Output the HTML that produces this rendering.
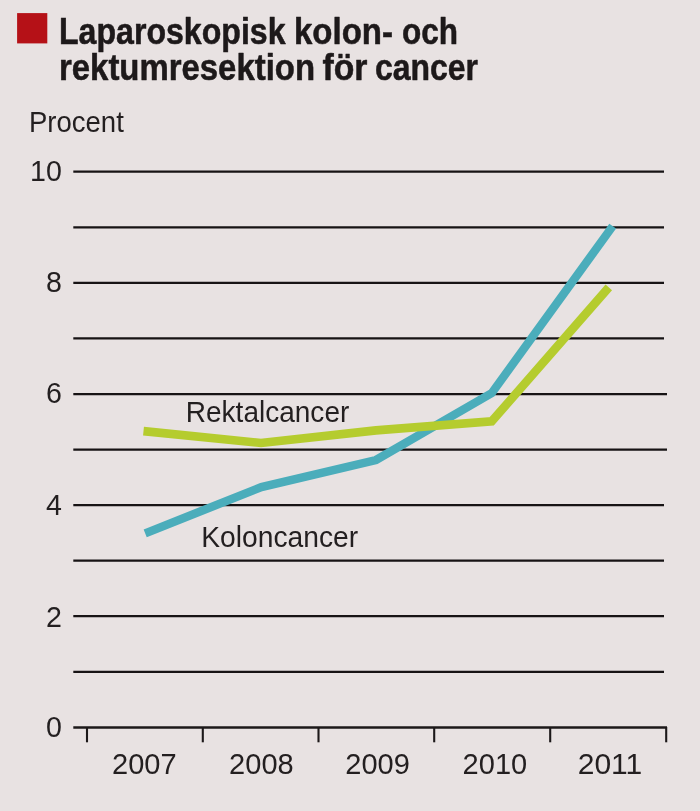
<!DOCTYPE html>
<html lang="sv">
<head>
<meta charset="utf-8">
<title>Laparoskopisk kolon- och rektumresektion för cancer</title>
<style>
  html, body { margin: 0; padding: 0; background: #e8e2e2; }
  body { width: 700px; height: 811px; overflow: hidden; font-family: "Liberation Sans", sans-serif; }
  svg { display: block; }
  .gray { will-change: transform; }
  text { font-family: "Liberation Sans", sans-serif; fill: #231f20; }
  .title { font-weight: bold; font-size: 37px; fill: #1d191a; stroke: #1d191a; stroke-width: 0.55px; stroke-linejoin: round; }
  .lbl { font-size: 29px; }
  .xl { font-size: 30px; }
  .yl { font-size: 28.6px; }
  .grid line { stroke: #171314; stroke-width: 2.25; }
</style>
</head>
<body>
<svg class="gray" width="700" height="811" viewBox="0 0 700 811">
  <rect x="0" y="0" width="700" height="811" fill="#e8e2e2"/>

  <!-- title -->
  <rect x="17.1" y="13.1" width="30.2" height="30.3" fill="#b51117"/>
  <text class="title" x="59" y="44.3" textLength="226.5" lengthAdjust="spacingAndGlyphs">Laparoskopisk</text>
  <text class="title" x="294" y="44.3" textLength="99" lengthAdjust="spacingAndGlyphs">kolon-</text>
  <text class="title" x="402" y="44.3" textLength="56" lengthAdjust="spacingAndGlyphs">och</text>
  <text class="title" x="59" y="79.8" textLength="256" lengthAdjust="spacingAndGlyphs">rektumresektion</text>
  <text class="title" x="322.5" y="79.8" textLength="45" lengthAdjust="spacingAndGlyphs">för</text>
  <text class="title" x="375" y="79.8" textLength="103" lengthAdjust="spacingAndGlyphs">cancer</text>

  <!-- unit -->
  <text class="lbl" x="28.9" y="131.9" textLength="94.9" lengthAdjust="spacingAndGlyphs">Procent</text>

  <!-- gridlines -->
  <g class="grid">
    <line x1="73.3" y1="171.7" x2="664" y2="171.7"/>
    <line x1="73.3" y1="227.3" x2="664" y2="227.3"/>
    <line x1="73.3" y1="282.9" x2="664" y2="282.9"/>
    <line x1="73.3" y1="338.4" x2="664" y2="338.4"/>
    <line x1="73.3" y1="394.0" x2="667" y2="394.0"/>
    <line x1="73.3" y1="449.6" x2="667" y2="449.6"/>
    <line x1="73.3" y1="505.1" x2="664" y2="505.1"/>
    <line x1="73.3" y1="560.6" x2="664" y2="560.6"/>
    <line x1="73.3" y1="616.2" x2="664" y2="616.2"/>
    <line x1="73.3" y1="671.8" x2="664" y2="671.8"/>
  </g>

  <!-- x axis -->
  <line x1="73.3" y1="727.45" x2="667" y2="727.45" stroke="#1c1819" stroke-width="2.6"/>
  <g stroke="#1c1819" stroke-width="2.1">
    <line x1="87" y1="727" x2="87" y2="742.3"/>
    <line x1="202.8" y1="727" x2="202.8" y2="742.3"/>
    <line x1="318.5" y1="727" x2="318.5" y2="742.3"/>
    <line x1="434.2" y1="727" x2="434.2" y2="742.3"/>
    <line x1="550.2" y1="727" x2="550.2" y2="742.3"/>
    <line x1="666.2" y1="727" x2="666.2" y2="742.3"/>
  </g>

  <!-- y labels -->
  <g class="lbl yl" text-anchor="end" transform="translate(-0.2,0)">
    <text x="62" y="180.5">10</text>
    <text x="62" y="291.6">8</text>
    <text x="62" y="403">6</text>
    <text x="62" y="514.5">4</text>
    <text x="62" y="626.5">2</text>
    <text x="62" y="737">0</text>
  </g>

  <!-- x labels -->
  <g class="lbl xl" text-anchor="middle">
    <text x="144.3" y="774.3" textLength="64.6" lengthAdjust="spacingAndGlyphs">2007</text>
    <text x="261.4" y="774.3" textLength="64.6" lengthAdjust="spacingAndGlyphs">2008</text>
    <text x="377.6" y="774.3" textLength="64.6" lengthAdjust="spacingAndGlyphs">2009</text>
    <text x="494.9" y="774.3" textLength="64.6" lengthAdjust="spacingAndGlyphs">2010</text>
    <text x="610.0" y="774.3" textLength="64.6" lengthAdjust="spacingAndGlyphs">2011</text>
  </g>

  <!-- series -->
  <polyline fill="none" stroke="#4badbb" stroke-width="8.4" stroke-linejoin="miter"
    points="145.2,533.3 261.4,487.1 376,460 491.7,393.1 612.7,226.1"/>
  <polyline fill="none" stroke="#b5cc2e" stroke-width="8.6" stroke-linejoin="miter"
    points="143.5,431.1 261,443 376,430.4 491.7,421.4 608.8,287.3"/>

  <!-- series labels -->
  <text class="lbl" x="185.8" y="422" textLength="163.5" lengthAdjust="spacingAndGlyphs">Rektalcancer</text>
  <text class="lbl" x="201.2" y="546.6" textLength="157" lengthAdjust="spacingAndGlyphs">Koloncancer</text>
</svg>
</body>
</html>
